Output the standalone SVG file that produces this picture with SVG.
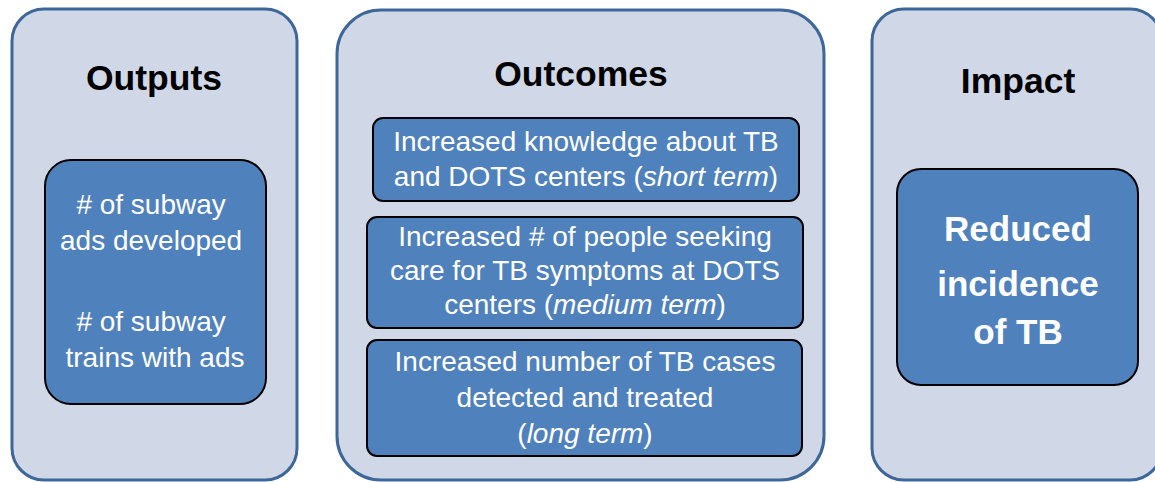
<svg xmlns="http://www.w3.org/2000/svg" width="1155" height="482" viewBox="0 0 1155 482">
<style>
.panel{fill:#d0d8e8;stroke:#3d6699;stroke-width:3}
.box{fill:#4f81bd;stroke:#000;stroke-width:2}
.title{font-family:"Liberation Sans",Arial,sans-serif;font-weight:bold;font-size:35.5px;fill:#000;text-anchor:middle}
.txt{font-family:"Liberation Sans",Arial,sans-serif;font-size:28px;fill:#fff;text-anchor:middle}
.big{font-family:"Liberation Sans",Arial,sans-serif;font-weight:bold;font-size:35px;fill:#fff;text-anchor:middle}
.i{font-style:italic}
</style>
<rect width="1155" height="482" fill="#fff"/>
<g id="outputs">
<rect class="panel" x="12" y="9" width="285" height="471" rx="32"/>
<text class="title" x="154" y="90">Outputs</text>
</g>
<g id="outputs-box">
<rect class="box" x="45" y="160" width="221" height="244" rx="26"/>
<text class="txt">
<tspan x="155" y="214"># of subway</tspan>
<tspan x="155" y="250">ads developed</tspan>
<tspan x="155" y="331"># of subway</tspan>
<tspan x="155" y="367">trains with ads</tspan>
</text>
</g>
<g id="outcomes">
<rect class="panel" x="337" y="10" width="487" height="470" rx="44"/>
<text class="title" x="581" y="86">Outcomes</text>
</g>
<g id="outcome-short">
<rect class="box" x="373" y="118" width="426" height="83" rx="10"/>
<text class="txt"><tspan x="586" y="151">Increased knowledge about TB</tspan><tspan x="586" y="186">and DOTS centers (<tspan class="i">short term</tspan>)</tspan></text>
</g>
<g id="outcome-medium">
<rect class="box" x="367" y="217" width="436" height="111" rx="10"/>
<text class="txt"><tspan x="585" y="246">Increased # of people seeking</tspan><tspan x="585" y="280">care for TB symptoms at DOTS</tspan><tspan x="585" y="314">centers (<tspan class="i">medium term</tspan>)</tspan></text>
</g>
<g id="outcome-long">
<rect class="box" x="367" y="340" width="435" height="116" rx="10"/>
<text class="txt"><tspan x="585" y="371">Increased number of TB cases</tspan><tspan x="585" y="407">detected and treated</tspan><tspan x="585" y="443">(<tspan class="i">long term</tspan>)</tspan></text>
</g>
<g id="impact">
<rect class="panel" x="872" y="9" width="290" height="471" rx="32"/>
<text class="title" x="1018" y="93">Impact</text>
</g>
<g id="impact-box">
<rect class="box" x="897" y="169" width="241" height="216" rx="24"/>
<text class="big"><tspan x="1018" y="241">Reduced</tspan><tspan x="1018" y="296">incidence</tspan><tspan x="1018" y="344">of TB</tspan></text>
</g>
<g id="connectors"></g>
</svg>
